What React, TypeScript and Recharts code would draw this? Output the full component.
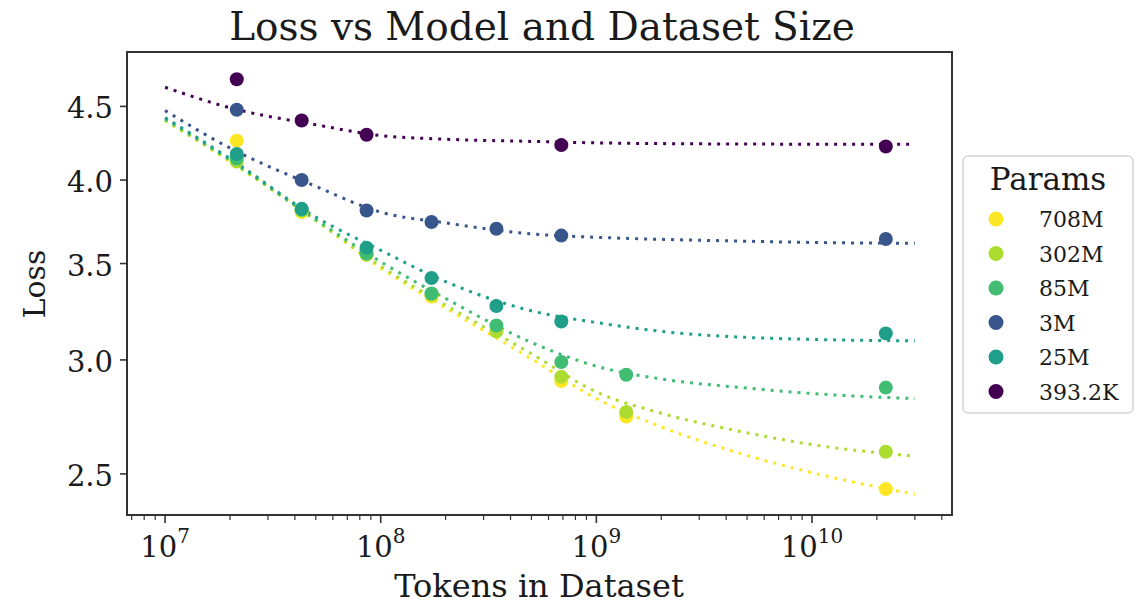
import React from 'react';
import { ComposedChart, Line, Scatter, XAxis, YAxis, Legend, ReferenceArea, Label } from 'recharts';

const FONT = "'DejaVu Serif', serif";
const TEXT = '#1a1a1a';

// Legend order (plot order)
const paramLabels = ['708M', '302M', '85M', '3M', '25M', '393.2K'];
const paramColors = ['#fde725', '#addc30', '#40bd72', '#39568c', '#1f9e89', '#440154'];

// Measured points: tokens in dataset
const tokens = [2.15e7, 4.3e7, 8.6e7, 1.72e8, 3.44e8, 6.88e8, 1.376e9, 2.2e10];
const loss708M = [4.26, 3.8, 3.55, 3.32, 3.14, 2.9, 2.74, 2.44];
const loss302M = [4.12, 3.81, 3.55, 3.33, 3.14, 2.92, 2.76, 2.59];
const loss85M = [4.14, 3.815, 3.556, 3.336, 3.17, 2.99, 2.93, 2.87];
const loss3M = [4.476, 4.0, 3.81, 3.74, 3.7, 3.66, null, 3.64];
const loss25M = [4.17, 3.82, 3.59, 3.42, 3.27, 3.19, null, 3.13];
const loss393K = [4.7, 4.4, 4.3, null, null, 4.23, null, 4.22];

// Fitted curves
const fitTokens = [1e7, 2e7, 5e7, 1e8, 2e8, 5e8, 1e9, 2e9, 5e9, 1e10, 3e10];
const fit708M = [4.4, 4.12, 3.75, 3.475, 3.26, 3.005, 2.82, 2.695, 2.575, 2.505, 2.42];
const fit302M = [4.4, 4.125, 3.75, 3.485, 3.275, 3.03, 2.85, 2.755, 2.67, 2.62, 2.572];
const fit85M = [4.41, 4.13, 3.755, 3.51, 3.31, 3.085, 2.97, 2.91, 2.868, 2.843, 2.82];
const fit3M = [4.47, 4.21, 3.96, 3.8, 3.735, 3.67, 3.65, 3.638, 3.627, 3.62, 3.615];
const fit25M = [4.42, 4.14, 3.77, 3.575, 3.4, 3.245, 3.185, 3.14, 3.11, 3.1, 3.093];
const fit393K = [4.64, 4.49, 4.37, 4.295, 4.27, 4.255, 4.245, 4.24, 4.237, 4.236, 4.235];

const yTicks = [2.5, 3.0, 3.5, 4.0, 4.5];
const xMajorTicks = [1e7, 1e8, 1e9, 1e10];
const xMinorTicks = [
  7e6, 8e6, 9e6,
  2e7, 3e7, 4e7, 5e7, 6e7, 7e7, 8e7, 9e7,
  2e8, 3e8, 4e8, 5e8, 6e8, 7e8, 8e8, 9e8,
  2e9, 3e9, 4e9, 5e9, 6e9, 7e9, 8e9, 9e9,
  2e10, 3e10, 4e10,
];
const xDomain = [6.66e6, 4.46e10];
const yDomain = [2.341, 4.909];

const pointSeries = [loss708M, loss302M, loss85M, loss3M, loss25M, loss393K];
const fitSeries = [fit708M, fit302M, fit85M, fit3M, fit25M, fit393K];

const toPoints = (xs: number[], ys: (number | null)[]) =>
  xs.map((x, i) => ({ x, y: ys[i] })).filter((d) => d.y != null);

const XTick = (props: any) => {
  const { x, y, payload } = props;
  const v = payload.value;
  const lg = Math.log10(v);
  const e = Math.round(lg);
  const isMajor = Math.abs(lg - e) < 1e-6;
  return (
    <g>
      <line x1={x} x2={x} y1={y + 1} y2={y + (isMajor ? 8 : 5)} stroke="#333" strokeWidth={isMajor ? 1.6 : 1.2} />
      {isMajor && (
        <text x={x} y={y + 42} textAnchor="middle" fontFamily={FONT} fontSize={29} fill={TEXT}>
          <tspan>10</tspan>
          <tspan dy={-14} fontSize={20}>{e}</tspan>
        </text>
      )}
    </g>
  );
};

const YTick = (props: any) => {
  const { x, y, payload } = props;
  return (
    <g>
      <line x1={x - 1} x2={x - 7} y1={y} y2={y} stroke="#333" strokeWidth={1.6} />
      <text x={x - 14} y={y + 12} textAnchor="end" fontFamily={FONT} fontSize={29} fill={TEXT}>
        {Number(payload.value).toFixed(1)}
      </text>
    </g>
  );
};

const LegendBox = () => (
  <svg width={172} height={259} style={{ display: 'block' }}>
    <rect x={1} y={1} width={170} height={257} rx={5} fill="#fff" stroke="#d4d4d4" strokeWidth={1.5} />
    <text x={86} y={35} textAnchor="middle" fontFamily={FONT} fontSize={31} fill={TEXT}>
      Params
    </text>
    {paramLabels.map((l, i) => (
      <g key={l}>
        <circle cx={34} cy={64 + i * 34.5} r={7.5} fill={paramColors[i]} />
        <text x={77} y={64 + i * 34.5 + 8} fontFamily={FONT} fontSize={22} fill={TEXT}>
          {l}
        </text>
      </g>
    ))}
  </svg>
);

export default function App() {
  return (
    <div style={{ position: 'absolute', left: 0, top: 0, width: 1148, height: 604, background: '#fff' }}>
      <ComposedChart
        width={1148}
        height={604}
        margin={{ top: 52, right: 196, bottom: 9, left: 27 }}
      >
        <XAxis
          dataKey="x"
          type="number"
          scale="log"
          domain={xDomain}
          allowDataOverflow
          ticks={[...xMinorTicks, ...xMajorTicks].sort((a, b) => a - b)}
          interval={0}
          tick={<XTick />}
          tickLine={false}
          tickSize={0}
          tickMargin={0}
          axisLine={false}
          height={80}
        >
          <Label
            content={() => (
              <text x={539} y={597} textAnchor="middle" fontFamily={FONT} fontSize={32} fill={TEXT}>
                Tokens in Dataset
              </text>
            )}
          />
        </XAxis>
        <YAxis
          dataKey="y"
          type="number"
          scale="log"
          domain={yDomain}
          allowDataOverflow
          ticks={yTicks}
          interval={0}
          tick={<YTick />}
          tickLine={false}
          tickSize={0}
          tickMargin={0}
          axisLine={false}
          width={100}
        >
          <Label
            content={() => (
              <text
                x={45}
                y={284}
                transform="rotate(-90 45 284)"
                textAnchor="middle"
                fontFamily={FONT}
                fontSize={30}
                fill={TEXT}
              >
                Loss
              </text>
            )}
          />
        </YAxis>
        <ReferenceArea
          x1={xDomain[0]}
          x2={xDomain[1]}
          y1={yDomain[0]}
          y2={yDomain[1]}
          fill="none"
          stroke="#333"
          strokeWidth={2}
          ifOverflow="visible"
        />
        {pointSeries.map((ys, i) => (
          <Scatter
            key={'s' + paramLabels[i]}
            name={paramLabels[i]}
            data={toPoints(tokens, ys)}
            dataKey="y"
            fill={paramColors[i]}
            isAnimationActive={false}
            shape={(p: any) => <circle cx={p.cx} cy={p.cy} r={7} fill={paramColors[i]} />}
          />
        ))}
        {fitSeries.map((ys, i) => (
          <Line
            key={'l' + paramLabels[i]}
            data={toPoints(fitTokens, ys)}
            dataKey="y"
            type="monotone"
            stroke={paramColors[i]}
            strokeWidth={3}
            strokeDasharray="3 6"
            dot={false}
            activeDot={false}
            legendType="none"
            isAnimationActive={false}
          />
        ))}
        <Legend
          layout="vertical"
          align="center"
          verticalAlign="middle"
          content={() => <LegendBox />}
          wrapperStyle={{ position: 'absolute', left: 962, top: 155, width: 172, height: 259 }}
        />
      </ComposedChart>
      <svg
        width={1148}
        height={604}
        style={{ position: 'absolute', left: 0, top: 0, pointerEvents: 'none' }}
      >
        <text x={542} y={40} textAnchor="middle" fontFamily={FONT} fontSize={39} fill={TEXT}>
          Loss vs Model and Dataset Size
        </text>
      </svg>
    </div>
  );
}
